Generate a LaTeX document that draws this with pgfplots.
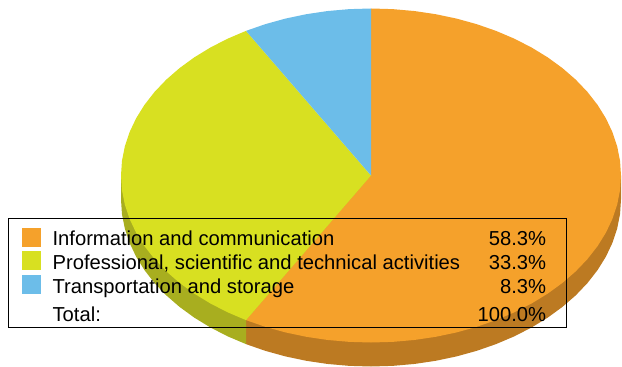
\documentclass[border=0pt]{standalone}
\usepackage{fontspec}
\setmainfont{Liberation Sans}
\usepackage{pgfplots}
\pgfplotsset{compat=1.18}

\definecolor{sliceA}{HTML}{F5A12B}
\definecolor{sliceB}{HTML}{D8E021}
\definecolor{sliceC}{HTML}{6CBDE9}
\definecolor{rimA}{HTML}{BC7A22}
\definecolor{rimB}{HTML}{A8AE1F}

\newcommand{\entry}[2]{\makebox[374.8pt][l]{#1\hfill #2\hspace{4.6pt}}}
% first row has a taller strut, so its swatch sits lower in the cell
\pgfplotsset{firstswatch/.style={legend image code/.code={\fill[##1] (0pt,-9.5pt) rectangle (14.25pt,4.75pt);}}}

\begin{document}
\begin{tikzpicture}
\begin{axis}[
  scale only axis, width=466.5pt, height=274.5pt,
  xmin=-1.484, xmax=1.004, ymin=-1.1407, ymax=1.0509,
  hide axis, clip=false,
  legend cell align=left,
  legend style={at={(0.0125,0.40437)}, anchor=north west, draw=black, line width=0.5pt,
    fill=none, inner xsep=10.6pt, inner ysep=3pt,
    font=\fontsize{15.15}{18}\selectfont,
    nodes={inner sep=0pt},
    /tikz/row sep=2.8pt,
    /tikz/every odd column/.append style={column sep=8.5pt}},
  legend image code/.code={\fill[#1] (0pt,-5.25pt) rectangle (14.25pt,9pt);}]

\path (axis cs:-1.484,-1.1407) rectangle (axis cs:1.004,1.0509);

% rim of the disc, lower edge shifted down
\addplot[forget plot, fill=rimA, draw=none] coordinates {
 (0,0) (1,0) (1,-0.1437) (0.9962,-0.2309) (0.9848,-0.3173) (0.9659,-0.4025) (0.9397,-0.4857)
 (0.9063,-0.5663) (0.8660,-0.6437) (0.8192,-0.7173) (0.7660,-0.7865) (0.7071,-0.8508)
 (0.6428,-0.9097) (0.5736,-0.9629) (0.5,-1.0097) (0.4226,-1.0500) (0.3420,-1.0834)
 (0.2588,-1.1096) (0.1736,-1.1285) (0.0872,-1.1399) (0,-1.1437) (-0.0872,-1.1399)
 (-0.1736,-1.1285) (-0.2588,-1.1096) (-0.3420,-1.0834) (-0.4226,-1.0500) (-0.5,-1.0097)
 (-0.5,-0.866)} -- cycle;
\addplot[forget plot, fill=rimB, draw=none] coordinates {
 (0,0) (-0.5,-0.866) (-0.5,-1.0097) (-0.5736,-0.9629) (-0.6428,-0.9097) (-0.7071,-0.8508)
 (-0.7660,-0.7865) (-0.8192,-0.7173) (-0.8660,-0.6437) (-0.9063,-0.5663) (-0.9397,-0.4857)
 (-0.9659,-0.4025) (-0.9848,-0.3173) (-0.9962,-0.2309) (-1,-0.1437) (-1,0)} -- cycle;

% top face, (angle,radius)
\addplot[firstswatch, fill=sliceA, draw=none, data cs=polar] coordinates {
 (0,0) (90,1) (85,1) (80,1) (75,1) (70,1) (65,1) (60,1) (55,1) (50,1) (45,1) (40,1) (35,1)
 (30,1) (25,1) (20,1) (15,1) (10,1) (5,1) (0,1) (-5,1) (-10,1) (-15,1) (-20,1) (-25,1)
 (-30,1) (-35,1) (-40,1) (-45,1) (-50,1) (-55,1) (-60,1) (-65,1) (-70,1) (-75,1) (-80,1)
 (-85,1) (-90,1) (-95,1) (-100,1) (-105,1) (-110,1) (-115,1) (-120,1)} -- cycle;
\addlegendentry{\entry{\rule{0pt}{17.25pt}Information and communication}{58.3\%}}
\addplot[fill=sliceB, draw=none, data cs=polar] coordinates {
 (0,0) (240,1) (235,1) (230,1) (225,1) (220,1) (215,1) (210,1) (205,1) (200,1) (195,1)
 (190,1) (185,1) (180,1) (175,1) (170,1) (165,1) (160,1) (155,1) (150,1) (145,1) (140,1)
 (135,1) (130,1) (125,1) (120,1)} -- cycle;
\addlegendentry{\entry{Professional, scientific and technical activities}{33.3\%}}
\addplot[fill=sliceC, draw=none, data cs=polar] coordinates {
 (0,0) (120,1) (115,1) (110,1) (105,1) (100,1) (95,1) (90,1)} -- cycle;
\addlegendentry{\entry{Transportation and storage}{8.3\%}}
\addlegendimage{empty legend}
\addlegendentry{\entry{\rule{0pt}{16.5pt}Total:}{100.0\%}}
\end{axis}
\end{tikzpicture}
\end{document}
